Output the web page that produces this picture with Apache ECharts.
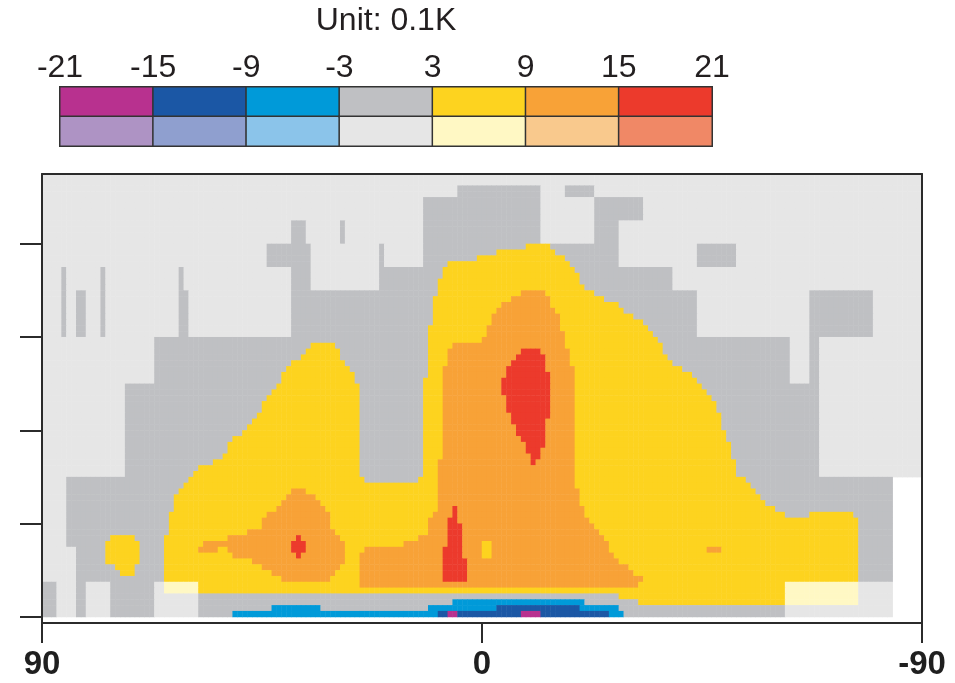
<!DOCTYPE html>
<html><head><meta charset="utf-8">
<script src="https://cdn.jsdelivr.net/npm/echarts@6/dist/echarts.min.js"></script>
<style>html,body{margin:0;padding:0;background:#fff}#c{width:955px;height:683px}</style>
</head><body><div id="c"></div>
<script>
// ---- data ----
const classLabels = ['-21', '-15', '-9', '-3', '3', '9', '15', '21'];
const classCodes = ['M', 'N', 'B', 'Z', 'Y', 'O', 'R']; // -21..-15, -15..-9, -9..-3, -3..3, 3..9, 9..15, 15..21
const sigColors   = ['#b8318f', '#1b57a5', '#009ad9', '#bfc0c3', '#fdd31f', '#f8a237', '#ec3a2c'];
const lightColors = ['#ae93c4', '#8f9fcf', '#8bc4ea', '#e6e6e6', '#fff8c4', '#f9c98d', '#f08866'];
const latTicks = [90, 0, -90];
const levelTicks = [0, 16, 32, 48, 64];
const nLat = 180; // 1 degree columns, 90N -> 90S
const nLev = 76;  // levels, listed from top to bottom below

// anomaly class per level (top -> bottom): "code:fromCol-toCol" painted in order over 'Z'
const valueRows = [
  '', '', '', '', '', '', '', '', '', '', '', '',
  'Y:99-104',
  'Y:93-105',
  'Y:89-107',
  'Y:83-108',
  'Y:82-109',
  'Y:82-110',
  'Y:81-110',
  'Y:81-111',
  'Y:81-113 O:98-103',
  'Y:80-115 O:96-104',
  'Y:80-118 O:94-104',
  'Y:80-119 O:93-105',
  'Y:80-121 O:92-106',
  'Y:80-123 O:92-106',
  'Y:79-124 O:91-106',
  'Y:79-125 O:91-107',
  'Y:79-126 O:90-107',
  'Y:55-60 Y:79-127 O:84-107',
  'Y:54-61 Y:79-127 O:83-108 R:98-102',
  'Y:53-61 Y:79-128 O:83-108 R:97-103',
  'Y:51-62 Y:79-129 O:83-108 R:96-103',
  'Y:50-63 Y:79-131 O:82-109 R:95-103',
  'Y:49-64 Y:79-133 O:82-109 R:95-104',
  'Y:49-64 Y:78-134 O:82-109 R:94-104',
  'Y:48-65 Y:78-135 O:82-109 R:94-104',
  'Y:47-65 Y:78-136 O:82-109 R:94-104',
  'Y:46-65 Y:78-137 O:82-109 R:95-104',
  'Y:45-65 Y:78-138 O:82-109 R:95-104',
  'Y:45-65 Y:78-138 O:82-109 R:95-104',
  'Y:44-65 Y:78-139 O:82-109 R:96-104',
  'Y:43-65 Y:78-139 O:82-109 R:96-103',
  'Y:42-65 Y:78-139 O:82-109 R:97-103',
  'Y:41-65 Y:78-140 O:82-109 R:97-103',
  'Y:39-65 Y:78-140 O:82-109 R:98-103',
  'Y:38-65 Y:78-141 O:82-109 R:99-103',
  'Y:38-65 Y:78-141 O:82-109 R:99-102',
  'Y:37-65 Y:78-141 O:82-109 R:100-102',
  'Y:35-65 Y:78-142 O:81-109 R:100-101',
  'Y:32-65 Y:78-142 O:81-109',
  'Y:31-65 Y:78-142 O:81-109',
  'Y:30-144 Z:66-77 O:81-109',
  'Y:29-145 O:81-109',
  'Y:28-146 O:51-54 O:81-110',
  'Y:27-147 O:50-56 O:81-110',
  'Y:27-148 O:49-57 O:81-110',
  'Y:27-150 O:48-58 O:81-111 R:84-85',
  'Y:26-152 Y:157-166 O:46-59 O:80-111 R:84-85',
  'Y:26-167 O:45-59 O:79-112 R:83-85',
  'Y:26-167 O:45-59 O:79-113 R:83-86',
  'Y:26-167 O:42-60 O:79-114 R:83-86',
  'Y:25-167 Y:14-19 O:38-61 O:77-115 R:52-53 R:83-86',
  'Y:25-167 Y:13-20 O:33-62 O:74-116 R:51-54 R:83-86 Y:90-92',
  'Y:25-167 Y:13-20 O:32-36 O:38-62 O:66-116 R:51-54 R:82-86 Y:90-92 O:136-139',
  'Y:25-167 Y:13-20 O:39-62 O:65-117 R:52-53 R:82-86 Y:90-92',
  'Y:25-167 Y:13-20 O:43-62 O:65-118 R:82-87',
  'Y:25-167 Y:15-19 O:45-61 O:65-120 R:82-87',
  'Y:25-167 Y:16-19 O:47-60 O:65-121 R:82-87',
  'Y:25-167 O:49-59 O:65-123 R:82-87',
  'Y:25-167 O:65-122',
  'Y:25-167',
  'Y:118-167',
  'Y:122-167 B:84-111',
  'B:47-57 B:79-118 N:93-110',
  'B:39-119 N:81-116 M:83-85 M:98-102'
];

// significance: [fromCol, toCol, fromRow, toRow, flag] (S = significant, w = missing), default not significant
const sigBlocks = [
  [0, 3, 70, 76, 'S'], [4, 5, 16, 28, 'S'], [5, 7, 52, 64, 'S'], [7, 9, 20, 28, 'S'],
  [7, 9, 52, 76, 'S'], [9, 14, 52, 70, 'S'], [12, 13, 16, 28, 'S'], [14, 17, 52, 76, 'S'],
  [17, 23, 36, 76, 'S'], [23, 32, 28, 70, 'S'], [28, 29, 16, 28, 'S'], [29, 30, 20, 28, 'S'],
  [32, 46, 28, 76, 'S'], [46, 51, 12, 16, 'S'], [46, 51, 28, 76, 'S'], [51, 54, 8, 76, 'S'],
  [54, 55, 12, 76, 'S'], [55, 69, 20, 76, 'S'], [61, 62, 8, 12, 'S'], [69, 70, 12, 76, 'S'],
  [70, 78, 16, 76, 'S'], [78, 85, 4, 76, 'S'], [85, 102, 2, 76, 'S'], [102, 107, 12, 76, 'S'],
  [107, 113, 2, 4, 'S'], [107, 113, 12, 76, 'S'], [113, 118, 4, 76, 'S'], [118, 123, 4, 8, 'S'],
  [118, 129, 16, 76, 'S'], [129, 134, 20, 76, 'S'], [134, 142, 12, 16, 'S'], [134, 152, 28, 76, 'S'],
  [152, 153, 28, 70, 'S'], [153, 157, 36, 70, 'S'], [157, 159, 20, 70, 'S'], [159, 170, 20, 28, 'S'],
  [159, 174, 52, 70, 'S'], [174, 180, 52, 76, 'w']
];

// ---- build ----
const latCats = [];
for (let c = 0; c < nLat; c++) latCats.push(String(89.5 - c));
const levCats = [];
for (let r = 0; r < nLev; r++) levCats.push(String(r));

const mask = [];
for (let r = 0; r < nLev; r++) mask.push(new Array(nLat).fill('n'));
sigBlocks.forEach(([c0, c1, r0, r1, f]) => {
  for (let r = r0; r < r1; r++) for (let c = c0; c < c1; c++) mask[r][c] = f;
});

const fieldData = [];
valueRows.forEach((rowStr, r) => {
  const cls = new Array(nLat).fill('Z');
  rowStr.split(/\s+/).filter(Boolean).forEach(seg => {
    const m = seg.match(/^([A-Z]):(\d+)-(\d+)$/);
    if (!m) return;
    for (let c = +m[2]; c < +m[3]; c++) cls[c] = m[1];
  });
  for (let c = 0; c < nLat; c++) {
    const f = mask[r][c];
    if (f === 'w') continue;
    const k = classCodes.indexOf(cls[c]);
    fieldData.push([c, nLev - 1 - r, k * 2 + (f === 'S' ? 0 : 1)]);
  }
});

const legendData = [];
classCodes.forEach((code, i) => {
  legendData.push([i, 1, i * 2]);
  legendData.push([i, 0, i * 2 + 1]);
});

const pieces = [];
classCodes.forEach((code, i) => {
  pieces.push({ value: i * 2, color: sigColors[i] });
  pieces.push({ value: i * 2 + 1, color: lightColors[i] });
});

const FONT = "'Liberation Sans', Arial, Helvetica, sans-serif";
const INK = '#2b2b2b';
const frameLine = { show: true, onZero: false, lineStyle: { color: INK, width: 2 } };

const chart = echarts.init(document.getElementById('c'), null, { renderer: 'canvas' });
chart.setOption({
  animation: false,
  backgroundColor: '#fff',
  title: {
    text: 'Unit: 0.1K', left: 386, top: 5, textAlign: 'center', padding: 0,
    textStyle: { fontFamily: FONT, fontSize: 32, fontWeight: 'normal', color: '#231f20' }
  },
  grid: [
    { left: 42, top: 174, width: 880, height: 443 },
    { left: 42, top: 174, width: 880, height: 449 },
    { left: 60, top: 87, width: 652, height: 59 }
  ],
  xAxis: [
    { type: 'category', gridIndex: 0, data: latCats, show: false },
    { type: 'value', gridIndex: 1, min: -90, max: 90, interval: 90, inverse: true, position: 'bottom', z: 10,
      axisLine: frameLine, splitLine: { show: false },
      axisTick: { show: true, length: 20, lineStyle: { color: INK, width: 2 } },
      axisLabel: { show: true, margin: 25, fontFamily: FONT, fontSize: 33, fontWeight: 'bold', color: '#1f1f1f',
        customValues: latTicks, formatter: v => String(v) } },
    { type: 'value', gridIndex: 1, min: 0, max: 1, position: 'top', z: 10,
      axisLine: frameLine, axisTick: { show: false }, axisLabel: { show: false }, splitLine: { show: false } },
    { type: 'category', gridIndex: 2, data: classCodes, show: false },
    { type: 'category', gridIndex: 2, data: classLabels, boundaryGap: false, position: 'top', z: 10,
      axisLine: { show: false }, axisTick: { show: false }, splitLine: { show: false },
      axisLabel: { show: true, interval: 0, margin: 3, fontFamily: FONT, fontSize: 32, color: '#231f20' } }
  ],
  yAxis: [
    { type: 'category', gridIndex: 0, data: levCats, show: false },
    { type: 'value', gridIndex: 0, min: 0, max: nLev, interval: 16, position: 'left', z: 10,
      axisLine: { show: false, onZero: false }, splitLine: { show: false }, axisLabel: { show: false },
      axisTick: { show: true, length: 22, customValues: levelTicks, lineStyle: { color: INK, width: 2 } } },
    { type: 'value', gridIndex: 1, min: 0, max: 1, position: 'left', z: 10,
      axisLine: frameLine, axisTick: { show: false }, axisLabel: { show: false }, splitLine: { show: false } },
    { type: 'value', gridIndex: 1, min: 0, max: 1, position: 'right', z: 10,
      axisLine: frameLine, axisTick: { show: false }, axisLabel: { show: false }, splitLine: { show: false } },
    { type: 'category', gridIndex: 2, data: ['ns', 'sig'], show: false }
  ],
  visualMap: { type: 'piecewise', show: false, dimension: 2, seriesIndex: [0, 1], pieces: pieces },
  series: [
    { type: 'heatmap', xAxisIndex: 0, yAxisIndex: 0, data: fieldData, progressive: 0,
      emphasis: { disabled: true }, itemStyle: { borderWidth: 0 } },
    { type: 'heatmap', xAxisIndex: 3, yAxisIndex: 4, data: legendData, progressive: 0,
      emphasis: { disabled: true }, itemStyle: { borderColor: '#333', borderWidth: 1.5 } }
  ]
});
</script>
</body></html>
